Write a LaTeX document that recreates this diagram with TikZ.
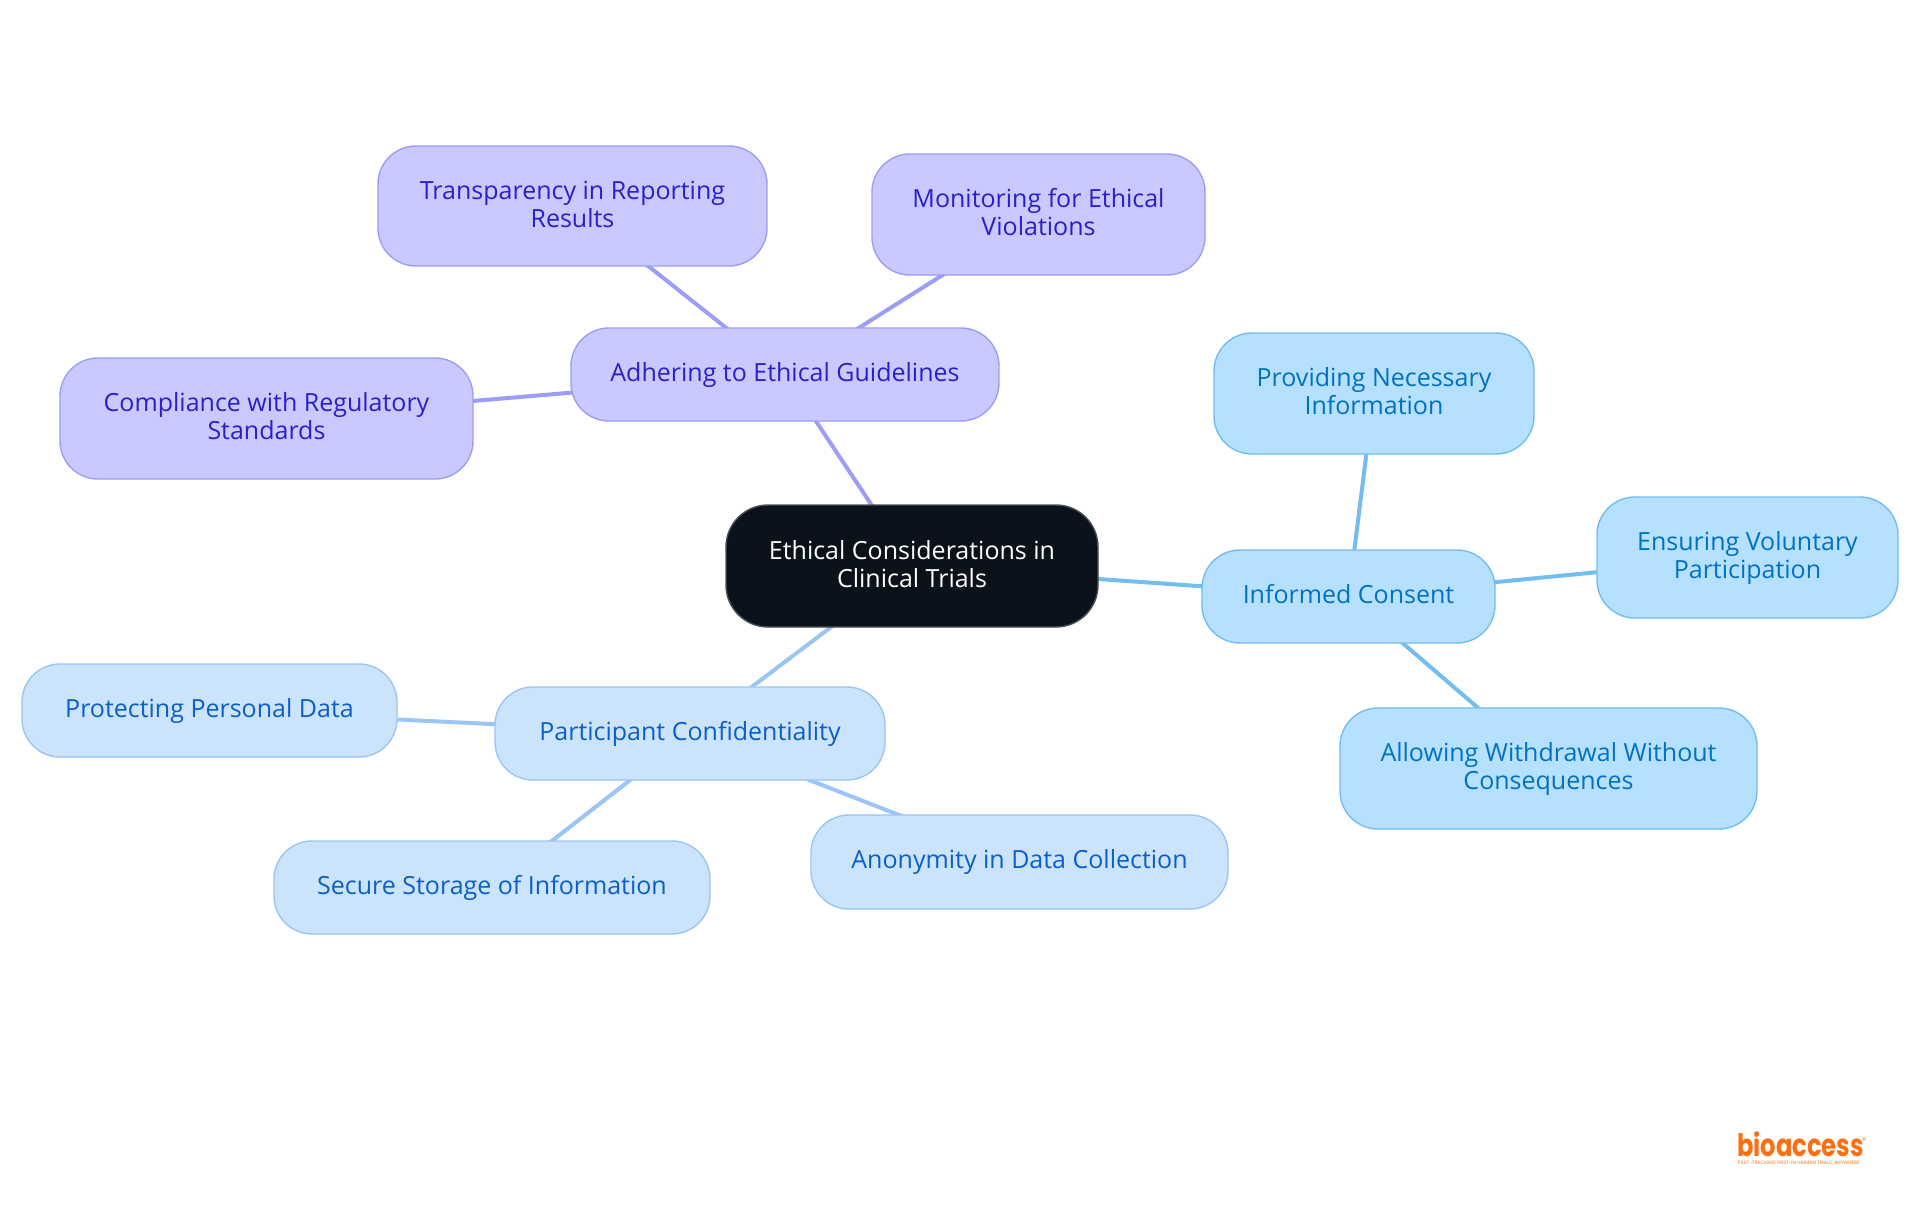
\documentclass[tikz,border=0pt]{standalone}
\usepackage{fontspec}
\setmainfont{Open Sans}
\newfontfamily\logofont{Poppins}
\usetikzlibrary{backgrounds}
\definecolor{cdark}{HTML}{0B121B}
\definecolor{cdarkb}{HTML}{4A4F55}
\definecolor{pfill}{HTML}{C9C9FF}
\definecolor{pline}{HTML}{9D9DF5}
\definecolor{ptext}{HTML}{2A1FC9}
\definecolor{sfill}{HTML}{B5E0FF}
\definecolor{sline}{HTML}{74BDEF}
\definecolor{stext}{HTML}{0272C0}
\definecolor{bfill}{HTML}{CCE3FC}
\definecolor{bline}{HTML}{9AC5F4}
\definecolor{btext}{HTML}{0A5FC8}
\definecolor{logoc}{HTML}{FF6F0F}
\tikzset{x=1pt,y=-1pt,
 mm/.style={rounded corners=38pt,draw,line width=1.4pt,align=center,font=\fontsize{25}{28}\selectfont,inner sep=0pt},
 rootn/.style={mm,fill=cdark,draw=cdarkb,text=white,rounded corners=42pt},
 pn/.style={mm,fill=pfill,draw=pline,text=ptext},
 sn/.style={mm,fill=sfill,draw=sline,text=stext},
 bn/.style={mm,fill=bfill,draw=bline,text=btext},
 pl/.style={draw=pline,line width=4pt},
 sl/.style={draw=sline,line width=4pt},
 bl/.style={draw=bline,line width=4pt},
 logotext/.style={anchor=base west,inner sep=0pt,text=logoc,text depth=0pt}}
\newcommand{\mystrut}{\rule[-5pt]{0pt}{24pt}}
\newcommand{\mmnode}[7]{\node[#1,minimum width=#4pt-#2pt,minimum height=#5pt-#3pt] (#6) at ({(#2+#4)/2},{(#3+#5)/2}) {\mystrut #7\mystrut};}
\begin{document}
\begin{tikzpicture}
\useasboundingbox (0,0) rectangle (1920,1215);
\mmnode{rootn}{726}{505}{1098}{627}{root}{Ethical Considerations in\\Clinical Trials}
\mmnode{pn}{571}{328}{999}{421}{adh}{Adhering to Ethical Guidelines}
\mmnode{pn}{378}{146}{767}{266}{tra}{Transparency in Reporting\\Results}
\mmnode{pn}{872}{154}{1205}{275}{mon}{Monitoring for Ethical\\Violations}
\mmnode{pn}{60}{358}{473}{479}{com}{Compliance with Regulatory\\Standards}
\mmnode{sn}{1202}{550}{1495}{643}{inf}{Informed Consent}
\mmnode{sn}{1214}{333}{1534}{454}{pro}{Providing Necessary\\Information}
\mmnode{sn}{1597}{497}{1898}{618}{ens}{Ensuring Voluntary\\Participation}
\mmnode{sn}{1340}{708}{1757}{829}{all}{Allowing Withdrawal Without\\Consequences}
\mmnode{bn}{495}{687}{885}{780}{par}{Participant Confidentiality}
\mmnode{bn}{22}{664}{397}{757}{ppd}{Protecting Personal Data}
\mmnode{bn}{274}{841}{710}{934}{sec}{Secure Storage of Information}
\mmnode{bn}{811}{815}{1228}{909}{ano}{Anonymity in Data Collection}
\begin{scope}[on background layer]
\fill[white] (0,0) rectangle (1920,1215);
\draw[pl] (root.center) -- (adh.center);
\draw[pl] (adh.center) -- (tra.center);
\draw[pl] (adh.center) -- (mon.center);
\draw[pl] (adh.center) -- (com.center);
\draw[sl] (root.center) -- (inf.center);
\draw[sl] (inf.center) -- (pro.center);
\draw[sl] (inf.center) -- (ens.center);
\draw[sl] (inf.center) -- (all.center);
\draw[bl] (root.center) -- (par.center);
\draw[bl] (par.center) -- (ppd.center);
\draw[bl] (par.center) -- (sec.center);
\draw[bl] (par.center) -- (ano.center);
\end{scope}
\node[logotext,xscale=0.78,font=\logofont\bfseries\fontsize{31}{31}\selectfont] (logo) at (1737,1156) {bioaccess};
\node[logotext,font=\logofont\fontsize{8}{8}\selectfont] (logor) at (1862,1143) {®};
\node[logotext,font=\logofont\fontsize{4.8}{5}\selectfont] (logot) at (1738,1164) {FAST-TRACKING FIRST-IN-HUMAN TRIALS, ANYWHERE};
\end{tikzpicture}
\end{document}
